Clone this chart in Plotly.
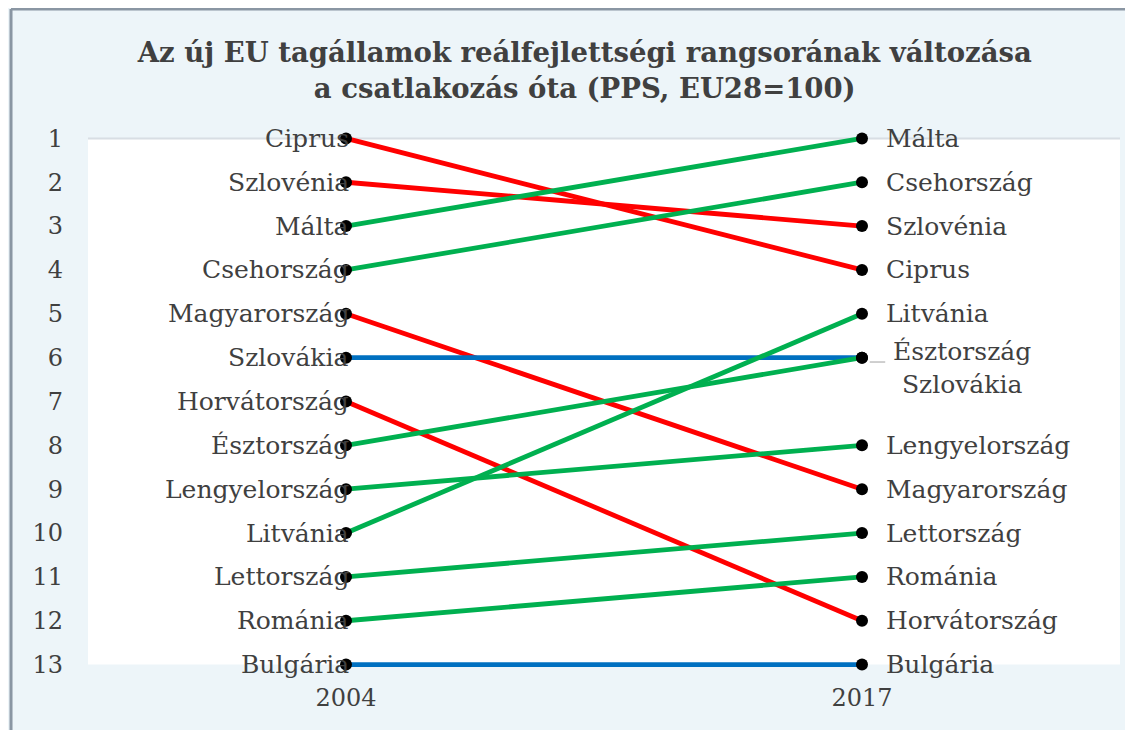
import plotly.graph_objects as go

years = ["2004", "2017"]
countries = ["Ciprus", "Szlovénia", "Málta", "Csehország", "Magyarország", "Szlovákia",
             "Horvátország", "Észtország", "Lengyelország", "Litvánia", "Lettország",
             "Románia", "Bulgária"]
rank_2004 = [1, 2, 3, 4, 5, 6, 7, 8, 9, 10, 11, 12, 13]
rank_2017 = [4, 3, 1, 2, 9, 6, 12, 6, 8, 5, 10, 11, 13]
rank_ticks = list(range(1, 14))

RED = "#ff0000"
GREEN = "#00b050"
BLUE = "#0070c0"
TXT = "#404040"
FONT = "DejaVu Serif"

fig = go.Figure()

# white panel between the first and last rank (lines would be clipped at the plot edge otherwise)
fig.add_shape(type="rect", xref="x", yref="y", x0=-0.5, x1=1.5, y0=rank_ticks[0], y1=rank_ticks[-1],
              fillcolor="white", line=dict(width=0), layer="below")
fig.add_shape(type="line", xref="x", yref="y", x0=-0.5, x1=1.5, y0=rank_ticks[0], y1=rank_ticks[0],
              line=dict(color="#d8dee4", width=2), layer="below")

# one line per country, colour depends on the direction of change
for name, r0, r1 in zip(countries, rank_2004, rank_2017):
    if r1 < r0:
        col = GREEN
    elif r1 > r0:
        col = RED
    else:
        col = BLUE
    fig.add_trace(go.Scatter(x=years, y=[r0, r1], mode="lines", cliponaxis=False,
                             line=dict(color=col, width=4.8), hoverinfo="skip"))

fig.add_trace(go.Scatter(x=[years[0]] * len(countries) + [years[1]] * len(countries),
                         y=rank_2004 + rank_2017, mode="markers", cliponaxis=False,
                         marker=dict(color="black", size=12), hoverinfo="skip"))

# labels (annotation x on a category axis is the category index)
for name, r0 in zip(countries, rank_2004):
    fig.add_annotation(x=0, y=r0, text=name, showarrow=False, xanchor="right",
                       xshift=5, font=dict(family=FONT, size=25, color=TXT))

shared = [n for n, r in zip(countries, rank_2017) if rank_2017.count(r) > 1]
for name, r1 in zip(countries, rank_2017):
    if name in shared:
        continue
    fig.add_annotation(x=1, y=r1, text=name, showarrow=False, xanchor="left",
                       xshift=22, font=dict(family=FONT, size=25, color=TXT))
if shared:
    r = rank_2017[countries.index(shared[0])]
    fig.add_annotation(x=1, y=r, text="<br>".join(sorted(shared, key=lambda n: n != "Észtország")),
                       showarrow=False, xanchor="left", yanchor="middle", align="center",
                       xshift=29, yshift=-10, font=dict(family=FONT, size=25, color=TXT))
    fig.add_shape(type="line", xref="x", yref="y", x0=1.015, x1=1.045, y0=r + 0.1, y1=r + 0.1,
                  line=dict(color="#a0a0a0", width=1))

# frame lines of the outer box
fig.add_shape(type="line", xref="paper", yref="paper", x0=-0.0746, x1=-0.0746, y0=-0.3, y1=1.2336,
              line=dict(color="#8a96a3", width=3))
fig.add_shape(type="line", xref="paper", yref="paper", x0=-0.0746, x1=1.2, y0=1.2336, y1=1.2336,
              line=dict(color="#8a96a3", width=3))

fig.update_layout(
    width=1133, height=730,
    margin=dict(l=80, r=21, t=126, b=69),
    paper_bgcolor="#edf5f9",
    plot_bgcolor="#edf5f9",
    showlegend=False,
    title=dict(text="<b>Az új EU tagállamok reálfejlettségi rangsorának változása<br>a csatlakozás óta (PPS, EU28=100)</b>",
               x=0.509, xanchor="center", y=0.926, yanchor="middle",
               font=dict(family=FONT, size=27.5, color=TXT)),
    xaxis=dict(type="category", range=[-0.5, 1.5], showgrid=False, zeroline=False,
               tickfont=dict(family=FONT, size=24, color=TXT), ticklabelstandoff=12),
    yaxis=dict(range=[13.1, 0.9], tickvals=rank_ticks, showgrid=False, zeroline=False,
               tickfont=dict(family=FONT, size=24, color=TXT), ticklabelstandoff=24),
)

fig.write_html("out.html")
